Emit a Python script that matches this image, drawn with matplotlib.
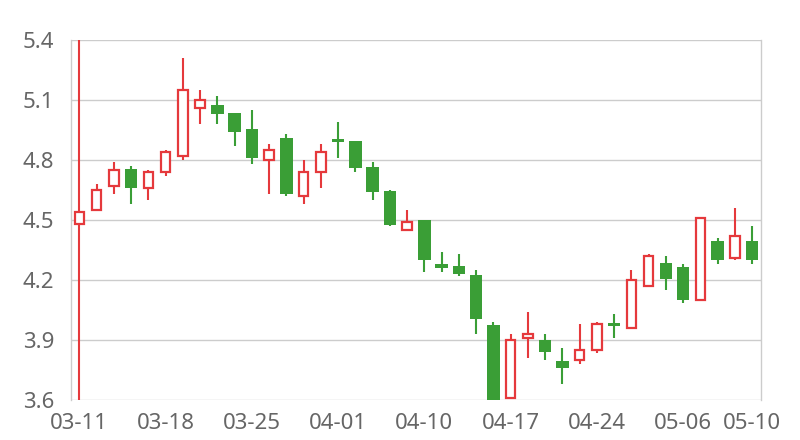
import matplotlib
matplotlib.use('Agg')
import matplotlib.pyplot as plt

dates = ['03-11', '03-12', '03-13', '03-14', '03-15', '03-18', '03-19', '03-20', '03-21', '03-22',
         '03-25', '03-26', '03-27', '03-28', '03-29', '04-01', '04-02', '04-03', '04-08', '04-09',
         '04-10', '04-11', '04-12', '04-15', '04-16', '04-17', '04-18', '04-19', '04-22', '04-23',
         '04-24', '04-25', '04-26', '04-29', '04-30', '05-06', '05-07', '05-08', '05-09', '05-10']
opens = [4.48, 4.55, 4.67, 4.755, 4.66, 4.74, 4.82, 5.06, 5.075, 5.035,
         4.955, 4.80, 4.91, 4.62, 4.74, 4.905, 4.895, 4.765, 4.645, 4.45,
         4.50, 4.28, 4.27, 4.225, 3.975, 3.61, 3.91, 3.90, 3.795, 3.80,
         3.85, 3.985, 3.96, 4.17, 4.285, 4.265, 4.10, 4.395, 4.31, 4.395]
closes = [4.54, 4.65, 4.75, 4.66, 4.74, 4.84, 5.15, 5.10, 5.03, 4.94,
          4.81, 4.85, 4.63, 4.74, 4.84, 4.89, 4.76, 4.64, 4.475, 4.49,
          4.30, 4.26, 4.23, 4.005, 3.60, 3.90, 3.93, 3.84, 3.76, 3.85,
          3.98, 3.97, 4.20, 4.32, 4.205, 4.10, 4.51, 4.30, 4.42, 4.30]
highs = [5.40, 4.68, 4.79, 4.77, 4.75, 4.85, 5.31, 5.15, 5.12, 5.035,
         5.05, 4.88, 4.93, 4.80, 4.88, 4.99, 4.895, 4.79, 4.65, 4.55,
         4.50, 4.34, 4.33, 4.25, 3.99, 3.93, 4.04, 3.93, 3.86, 3.98,
         3.99, 4.03, 4.25, 4.33, 4.32, 4.28, 4.515, 4.41, 4.56, 4.47]
lows = [3.60, 4.55, 4.63, 4.58, 4.60, 4.72, 4.80, 4.98, 4.98, 4.87,
        4.78, 4.63, 4.62, 4.58, 4.66, 4.81, 4.74, 4.60, 4.47, 4.45,
        4.24, 4.24, 4.22, 3.93, 3.60, 3.61, 3.81, 3.80, 3.68, 3.78,
        3.835, 3.91, 3.955, 4.17, 4.15, 4.085, 4.095, 4.28, 4.30, 4.28]
tick_idx = [0, 5, 10, 15, 20, 25, 30, 35, 39]
y_ticks = [3.6, 3.9, 4.2, 4.5, 4.8, 5.1, 5.4]

red = '#e5393c'
green = '#3a9e36'
grey = '#666666'

plt.rcParams['font.family'] = ['Noto Sans', 'DejaVu Sans']

fig = plt.figure(figsize=(8, 4.4), dpi=100)
ax = fig.add_axes([0.0884, 0.0909, 0.8625, 0.8182])

x = list(range(len(dates)))
for i in x:
    up = closes[i] >= opens[i]
    col = red if up else green
    ax.vlines(i, lows[i], highs[i], color=col, linewidth=1.5, zorder=2)
    lo = min(opens[i], closes[i])
    h = abs(closes[i] - opens[i])
    if up:
        ax.bar(i, h, bottom=lo, width=0.54, facecolor='white', edgecolor=red,
               linewidth=1.6, zorder=3)
    else:
        ax.bar(i, h, bottom=lo, width=0.72, color=green, linewidth=0, zorder=3)

ax.set_xlim(-0.5, len(dates) - 0.5)
ax.set_ylim(3.6, 5.4)
ax.set_yticks(y_ticks)
ax.set_yticklabels(['%.1f' % v for v in y_ticks])
ax.set_xticks(tick_idx)
ax.set_xticklabels([dates[i] for i in tick_idx])
ax.grid(axis='y', color='#cccccc', linewidth=1)
ax.set_axisbelow(True)
for s in ['top', 'bottom']:
    ax.spines[s].set_visible(False)
for s in ['left', 'right']:
    ax.spines[s].set_color('#cccccc')
    ax.spines[s].set_linewidth(1)
ax.tick_params(length=0, labelsize=16, colors=grey, pad=9)
ax.tick_params(axis='y', pad=12)

plt.savefig('out.png')
